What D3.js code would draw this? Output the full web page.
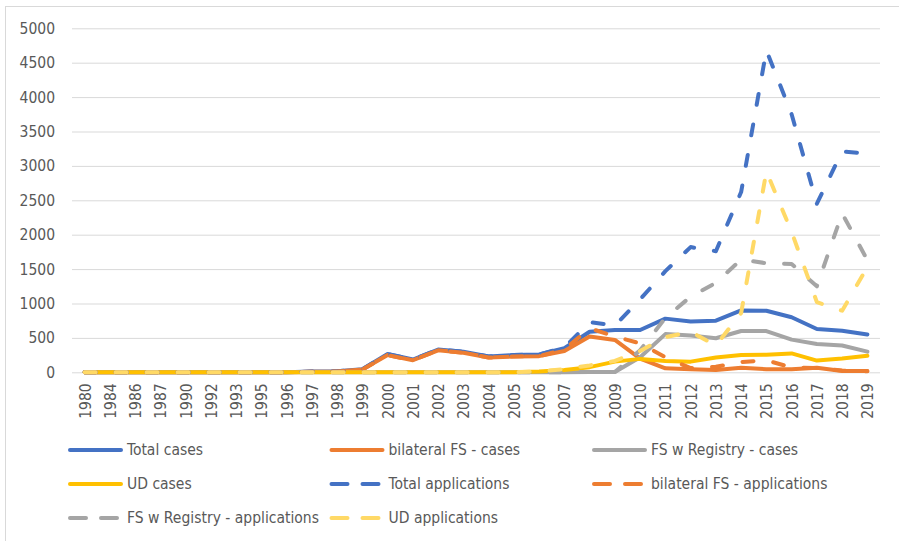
<!DOCTYPE html>
<html>
<head>
<meta charset="utf-8">
<script src="https://cdn.jsdelivr.net/npm/d3@7"></script>
<style>
  body { margin: 0; background: #fff; }
  text { font-family: "DejaVu Sans Condensed", "Liberation Sans Narrow", "DejaVu Sans", sans-serif; fill: #595959; }
</style>
</head>
<body>
<div id="chart"></div>
<script>
// categories (irregular years on the x axis)
const years = ["1980","1984","1986","1987","1990","1992","1993","1995","1996","1997","1998","1999",
  "2000","2001","2002","2003","2004","2005","2006","2007","2008","2009",
  "2010","2011","2012","2013","2014","2015","2016","2017","2018","2019"];

const yTicks = [0, 500, 1000, 1500, 2000, 2500, 3000, 3500, 4000, 4500, 5000];

// series values
const totalCases      = [0,0,0,0,0,0,0,0,0,10,15,45, 265,185,330,300,230,250,260,350,590,615, 615,780,740,750,900,895,800,630,605,550];
const bilateralCases  = [0,0,0,0,0,0,0,0,0,8,12,40, 250,175,320,285,215,230,235,310,520,470, 200,58,45,35,65,45,45,65,20,20];
const registryCases   = [0,0,0,0,0,0,0,0,0,0,0,0, 0,0,0,0,0,0,0,0,5,5, 220,555,535,495,600,600,475,410,390,300];
const udCases         = [0,0,0,0,0,0,0,0,0,0,0,0, 0,0,0,0,0,0,10,35,75,155, 195,165,155,215,250,255,275,170,200,240];
const totalApps       = [0,0,0,0,0,0,0,0,0,10,15,45, 265,185,330,300,230,250,260,360,730,680, 1060,1470,1820,1760,2620,4680,3750,2450,3210,3180];
const bilateralApps   = [0,0,0,0,0,0,0,0,0,8,12,40, 250,175,320,285,215,230,235,330,640,520, 420,220,60,80,150,175,70,60,25,15];
const registryApps    = [0,0,0,0,0,0,0,0,0,0,0,0, 0,0,0,0,0,0,0,0,5,5, 320,790,1100,1300,1640,1585,1575,1250,2310,1630];
const udApps          = [0,0,0,0,0,0,0,0,0,0,0,0, 0,0,0,0,0,0,15,45,100,165, 310,510,590,390,860,2920,2040,1020,895,1530];

// series list (draw order = legend order)
const series = [
  { name: "Total cases",                 values: totalCases,     color: "#4472C4", dashed: false },
  { name: "bilateral FS - cases",        values: bilateralCases, color: "#ED7D31", dashed: false },
  { name: "FS w Registry - cases",       values: registryCases,  color: "#A5A5A5", dashed: false },
  { name: "UD cases",                    values: udCases,        color: "#FFC000", dashed: false },
  { name: "Total applications",          values: totalApps,      color: "#4472C4", dashed: true },
  { name: "bilateral FS - applications", values: bilateralApps,  color: "#ED7D31", dashed: true },
  { name: "FS w Registry - applications",values: registryApps,   color: "#A5A5A5", dashed: true },
  { name: "UD applications",             values: udApps,         color: "#FFD966", dashed: true }
];

// dimensions
const svgWidth = 899,
    svgHeight = 541,
    plot = { left: 72, right: 880, top: 28.3, bottom: 372.3 };

const svg = d3.select("#chart")
  .append("svg")
  .attr("width", svgWidth)
  .attr("height", svgHeight);

// chart area border (only left/top edges are inside the picture)
svg.append("rect")
  .attr("x", 5.5).attr("y", 6.5)
  .attr("width", 1000).attr("height", 1000)
  .attr("fill", "none")
  .attr("stroke", "#d9d9d9")
  .attr("stroke-width", 1);

// scales
const x = d3.scalePoint()
  .domain(years)
  .range([plot.left, plot.right])
  .padding(0.5);

const y = d3.scaleLinear()
  .domain([0, 5000])
  .range([plot.bottom, plot.top]);

// gridlines + y labels
const yAxis = d3.axisLeft(y)
  .tickValues(yTicks)
  .tickFormat(d3.format("d"))
  .tickSize(-(plot.right - plot.left))
  .tickPadding(17);

svg.append("g")
  .attr("transform", `translate(${plot.left},0)`)
  .call(yAxis)
  .call(g => g.select(".domain").remove())
  .call(g => g.selectAll(".tick line").attr("stroke", "#d9d9d9").attr("stroke-width", 1))
  .call(g => g.selectAll(".tick text").style("font-size", "15.5px").attr("fill", "#595959"));

// x labels rotated
const xAxis = d3.axisBottom(x).tickSize(0).tickPadding(0);

svg.append("g")
  .attr("transform", `translate(0,${plot.bottom})`)
  .call(xAxis)
  .call(g => g.select(".domain").remove())
  .call(g => g.selectAll(".tick text")
    .style("font-size", "15.5px")
    .attr("fill", "#595959")
    .attr("text-anchor", "end")
    .attr("transform", "rotate(-90)")
    .attr("x", -11)
    .attr("y", 0)
    .attr("dy", "0.35em"));

// lines
const line = d3.line()
  .x((d, i) => x(years[i]))
  .y(d => y(d));

svg.append("g")
  .selectAll("path")
  .data(series)
  .join("path")
  .attr("d", d => line(d.values))
  .attr("fill", "none")
  .attr("stroke", d => d.color)
  .attr("stroke-width", 4)
  .attr("stroke-linejoin", "round")
  .attr("stroke-linecap", "round")
  .attr("stroke-dasharray", d => d.dashed ? "11,20" : null);

// legend, 3 columns
const legendCols = [68, 329.5, 592],
    legendRows = [450, 484, 518];

const legend = svg.append("g")
  .selectAll("g")
  .data(series)
  .join("g")
  .attr("transform", (d, i) => `translate(${legendCols[i % 3]},${legendRows[Math.floor(i / 3)]})`);

legend.append("line")
  .attr("x1", 2).attr("x2", 53)
  .attr("stroke", d => d.color)
  .attr("stroke-width", 4)
  .attr("stroke-linecap", "round")
  .attr("stroke-dasharray", d => d.dashed ? "16,15" : null);

legend.append("text")
  .attr("x", 59)
  .attr("dy", "0.35em")
  .style("font-size", "15.5px")
  .text(d => d.name);
</script>
</body>
</html>
